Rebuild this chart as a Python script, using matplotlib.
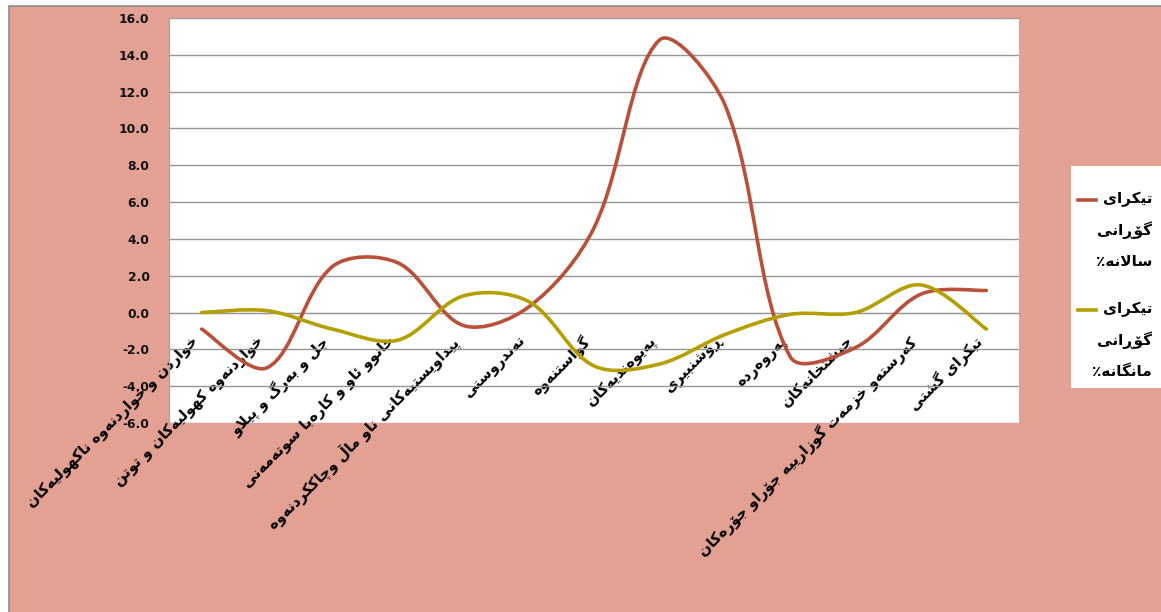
import numpy as np
import matplotlib
matplotlib.use("Agg")
import matplotlib.pyplot as plt
from matplotlib.path import Path
from matplotlib.patches import PathPatch, Rectangle
from matplotlib.lines import Line2D

# ---------------- data ----------------
categories = [
    "خواردن و خواردنەوە ناکهولیەکان",
    "خواردنەوە کهولیەکان و توتن",
    "جل و بەرگ و پێڵاو",
    "خانوو ئاو و کارەبا سوتەمەنی",
    "پێداویستیەکانی ناو ماڵ وچاککردنەوە",
    "تەندروستی",
    "گواستنەوە",
    "پەیوەندیەکان",
    "ڕۆشنبیری",
    "پەروەردە",
    "چێشتخانەکان",
    "کەرستەو خزمەت گوزارییە جۆراو جۆرەکان",
    "تێکرای گشتی",
]
annual_change = [-0.9, -3.0, 2.5, 2.7, -0.7, 0.3, 4.6, 14.8, 11.3, -2.4, -1.9, 1.0, 1.2]
monthly_change = [0.0, 0.1, -0.9, -1.5, 0.9, 0.6, -2.9, -2.8, -1.2, -0.1, 0.0, 1.5, -0.9]
series_names = ["تێکرای گۆڕانی ساڵانە٪", "تێکرای گۆڕانی مانگانە٪"]
y_ticks = [-6, -4, -2, 0, 2, 4, 6, 8, 10, 12, 14, 16]

# ---------------- Arabic-script shaping (no bidi/shaping in matplotlib) ----------------
FORMS = {
    '\u0621': ('\uFE80', None, None, None),
    '\u0622': ('\uFE81', '\uFE82', None, None),
    '\u0623': ('\uFE83', '\uFE84', None, None),
    '\u0624': ('\uFE85', '\uFE86', None, None),
    '\u0625': ('\uFE87', '\uFE88', None, None),
    '\u0626': ('\uFE89', '\uFE8A', '\uFE8B', '\uFE8C'),
    '\u0627': ('\uFE8D', '\uFE8E', None, None),
    '\u0628': ('\uFE8F', '\uFE90', '\uFE91', '\uFE92'),
    '\u0629': ('\uFE93', '\uFE94', None, None),
    '\u062A': ('\uFE95', '\uFE96', '\uFE97', '\uFE98'),
    '\u062B': ('\uFE99', '\uFE9A', '\uFE9B', '\uFE9C'),
    '\u062C': ('\uFE9D', '\uFE9E', '\uFE9F', '\uFEA0'),
    '\u062D': ('\uFEA1', '\uFEA2', '\uFEA3', '\uFEA4'),
    '\u062E': ('\uFEA5', '\uFEA6', '\uFEA7', '\uFEA8'),
    '\u062F': ('\uFEA9', '\uFEAA', None, None),
    '\u0630': ('\uFEAB', '\uFEAC', None, None),
    '\u0631': ('\uFEAD', '\uFEAE', None, None),
    '\u0632': ('\uFEAF', '\uFEB0', None, None),
    '\u0633': ('\uFEB1', '\uFEB2', '\uFEB3', '\uFEB4'),
    '\u0634': ('\uFEB5', '\uFEB6', '\uFEB7', '\uFEB8'),
    '\u0635': ('\uFEB9', '\uFEBA', '\uFEBB', '\uFEBC'),
    '\u0636': ('\uFEBD', '\uFEBE', '\uFEBF', '\uFEC0'),
    '\u0637': ('\uFEC1', '\uFEC2', '\uFEC3', '\uFEC4'),
    '\u0638': ('\uFEC5', '\uFEC6', '\uFEC7', '\uFEC8'),
    '\u0639': ('\uFEC9', '\uFECA', '\uFECB', '\uFECC'),
    '\u063A': ('\uFECD', '\uFECE', '\uFECF', '\uFED0'),
    '\u0641': ('\uFED1', '\uFED2', '\uFED3', '\uFED4'),
    '\u0642': ('\uFED5', '\uFED6', '\uFED7', '\uFED8'),
    '\u0643': ('\uFED9', '\uFEDA', '\uFEDB', '\uFEDC'),
    '\u0644': ('\uFEDD', '\uFEDE', '\uFEDF', '\uFEE0'),
    '\u0645': ('\uFEE1', '\uFEE2', '\uFEE3', '\uFEE4'),
    '\u0646': ('\uFEE5', '\uFEE6', '\uFEE7', '\uFEE8'),
    '\u0647': ('\uFEE9', '\uFEEA', '\uFEEB', '\uFEEC'),
    '\u0648': ('\uFEED', '\uFEEE', None, None),
    '\u0649': ('\uFEEF', '\uFEF0', None, None),
    '\u064A': ('\uFEF1', '\uFEF2', '\uFEF3', '\uFEF4'),
    '\u067E': ('\uFB56', '\uFB57', '\uFB58', '\uFB59'),
    '\u0686': ('\uFB7A', '\uFB7B', '\uFB7C', '\uFB7D'),
    '\u0698': ('\uFB8A', '\uFB8B', None, None),
    '\u06A4': ('\uFB6A', '\uFB6B', '\uFB6C', '\uFB6D'),
    '\u06A9': ('\uFB8E', '\uFB8F', '\uFB90', '\uFB91'),
    '\u06AF': ('\uFB92', '\uFB93', '\uFB94', '\uFB95'),
    '\u06BE': ('\uFBAA', '\uFBAB', '\uFBAC', '\uFBAD'),
    '\u06C6': ('\uFBD9', '\uFBDA', None, None),
    '\u06CC': ('\uFBFC', '\uFBFD', '\uFBFE', '\uFBFF'),
    '\u06CE': ('\u06CE', '\uFBFD', '\uFBFE', '\uFBFF'),
    '\u06B5': ('\u06B5', '\uFEDE', '\uFEDF', '\uFEE0'),
    '\u06D5': ('\u06D5', '\uFEEA', None, None),
    '\u0695': ('\u0695', '\u0695', None, None),
}


def shape_rtl(text):
    chars = list(text)
    n = len(chars)
    out = []
    i = 0
    while i < n:
        c = chars[i]
        f = FORMS.get(c)
        if f is None:
            out.append(c)
            i += 1
            continue
        prev = chars[i - 1] if i > 0 else None
        joins_prev = prev is not None and prev in FORMS and FORMS[prev][2] is not None and f[1] is not None
        if c in ('\u0644', '\u06B5') and i + 1 < n and chars[i + 1] == '\u0627':
            out.append('\uFEFC' if joins_prev else '\uFEFB')
            i += 2
            continue
        nxt = chars[i + 1] if i + 1 < n else None
        joins_next = f[2] is not None and nxt is not None and nxt in FORMS and FORMS[nxt][1] is not None
        if joins_prev and joins_next:
            g = f[3]
        elif joins_prev:
            g = f[1]
        elif joins_next:
            g = f[2]
        else:
            g = f[0]
        out.append(g)
        i += 1
    return "".join(out)[::-1]


# ---------------- style ----------------
W, H = 1161, 612
SALMON = "#E2A192"
RED = "#B9503A"
OLIVE = "#B59F00"
GRID = "#959595"

plt.rcParams["font.family"] = ["DejaVu Sans"]

fig = plt.figure(figsize=(W / 100, H / 100), dpi=100)
fig.patch.set_facecolor("white")
fig.patches.append(Rectangle((9 / W, -0.1), 1.2, 1.1 - 6 / H, transform=fig.transFigure,
                             facecolor=SALMON, edgecolor="#8c8c8c", lw=1.2, zorder=-10))

ax = fig.add_axes([169 / W, 1 - 423 / H, (1019 - 169) / W, (423 - 18) / H])
ax.set_zorder(2)
ax.set_facecolor("white")
ax.set_xlim(-0.5, len(categories) - 0.5)
ax.set_ylim(-6, 16)

ax.set_yticks(y_ticks)
ax.set_yticklabels([f"{v:.1f}" for v in y_ticks])
ax.yaxis.grid(True, color=GRID, lw=1.0)
ax.set_axisbelow(True)
ax.tick_params(axis="y", length=0, pad=14, labelsize=8.8, labelcolor="#111111")
for t in ax.get_yticklabels():
    t.set_fontweight("bold")

x = np.arange(len(categories))
ax.spines["bottom"].set_position(("data", 0))
ax.spines["bottom"].set_color(GRID)
ax.spines["left"].set_color("#a0a0a0")
ax.spines["top"].set_color("#a0a0a0")
ax.spines["right"].set_visible(False)
ax.set_xticks(x)
ax.set_xticklabels([shape_rtl(c) for c in categories], rotation=45, ha="right",
                   fontsize=10.5, fontweight="bold", color="black")
ax.tick_params(axis="x", length=0, pad=15)
for t in ax.get_xticklabels():
    t.set_zorder(5)


def smooth_path(axes, xs, ys, k=1 / 3):
    """Excel-like smoothed line: Bezier segments whose control points are
    computed in screen space and scaled by neighbouring segment lengths."""
    P = axes.transData.transform(np.column_stack([xs, ys]).astype(float))
    n = len(P)
    c_in = [None] * n
    c_out = [None] * n
    for i in range(n):
        if i == 0:
            c_out[i] = P[0] + (P[1] - P[0]) * k * 0.5
            continue
        if i == n - 1:
            c_in[i] = P[i] - (P[i] - P[i - 1]) * k * 0.5
            continue
        d = P[i + 1] - P[i - 1]
        l1 = np.hypot(*(P[i] - P[i - 1]))
        l2 = np.hypot(*(P[i + 1] - P[i]))
        c_in[i] = P[i] - d * k * l1 / (l1 + l2)
        c_out[i] = P[i] + d * k * l2 / (l1 + l2)
    verts = [P[0]]
    codes = [Path.MOVETO]
    for i in range(n - 1):
        verts += [c_out[i], c_in[i + 1], P[i + 1]]
        codes += [Path.CURVE4] * 3
    verts = axes.transData.inverted().transform(np.array(verts))
    return Path(verts, codes)


for vals, col in ((annual_change, RED), (monthly_change, OLIVE)):
    ax.add_patch(PathPatch(smooth_path(ax, x, vals), facecolor="none", edgecolor=col,
                           lw=2.6, capstyle="round", joinstyle="round", zorder=3))

# ---------------- legend ----------------
fig.patches.append(Rectangle((1071 / W, 1 - 388 / H), 0.2, (388 - 166) / H,
                             transform=fig.transFigure, facecolor="white",
                             edgecolor="none", zorder=1))
entries = [(series_names[0], RED, 199), (series_names[1], OLIVE, 309)]
for name, col, ytop in entries:
    fig.lines.append(Line2D([1078 / W, 1096 / W], [1 - (ytop + 1) / H] * 2,
                            transform=fig.transFigure, color=col, lw=2.6, zorder=2))
    words = name.split(" ")
    for k, w in enumerate(words):
        fig.text(1152 / W, 1 - (ytop + 31 * k) / H, shape_rtl(w), ha="right", va="center",
                 fontsize=11, fontweight="bold", color="black", zorder=3)

fig.savefig("out.png", dpi=100, facecolor=fig.get_facecolor())
